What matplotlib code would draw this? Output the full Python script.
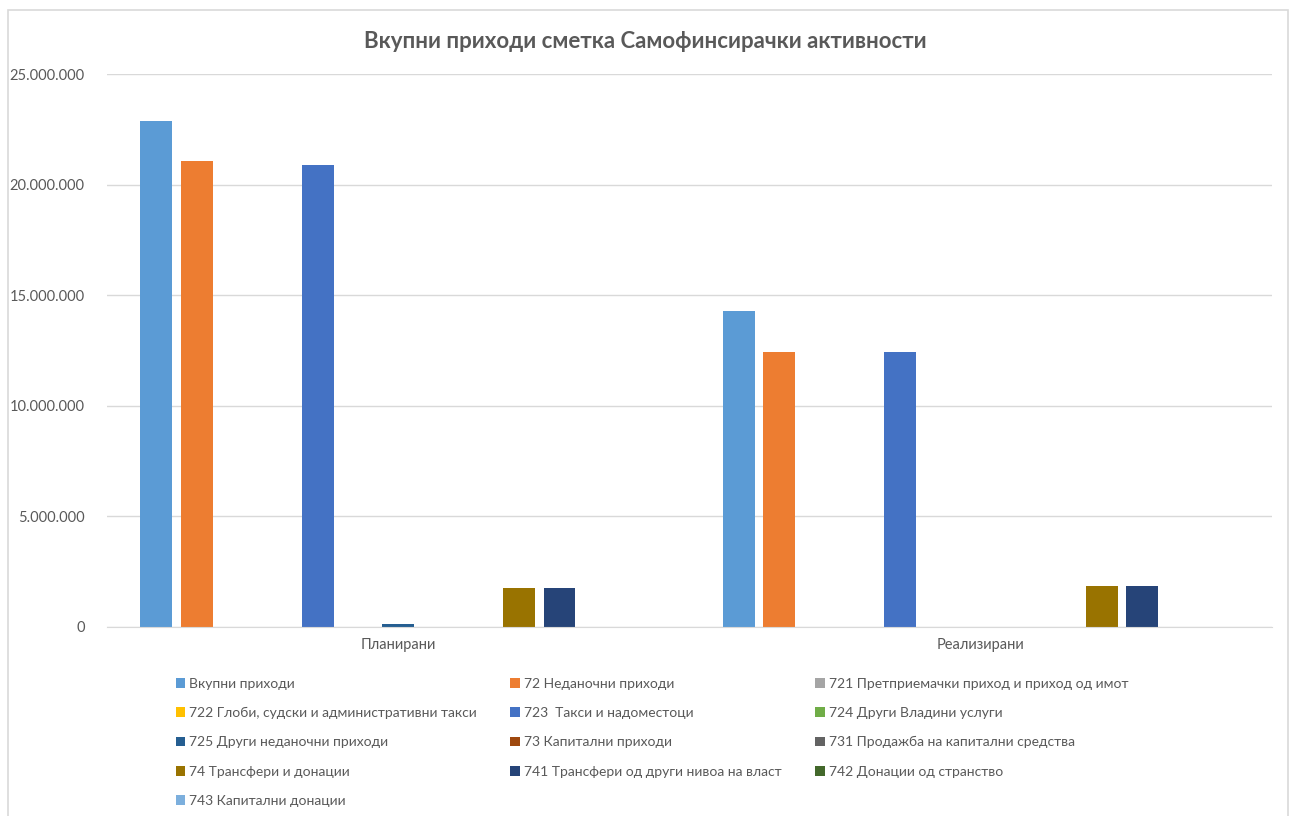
import numpy as np
import matplotlib.pyplot as plt
from matplotlib.patches import Rectangle

plt.rcParams['font.family'] = ['Lato', 'DejaVu Sans']

categories = ['Планирани', 'Реализирани']
series = ['Вкупни приходи', '72 Неданочни приходи',
          '721 Претприемачки приход и приход од имот',
          '722 Глоби, судски и административни такси',
          '723  Такси и надоместоци', '724 Други Владини услуги',
          '725 Други неданочни приходи', '73 Капитални приходи',
          '731 Продажба на капитални средства', '74 Трансфери и донации',
          '741 Трансфери од други нивоа на власт', '742 Донации од странство',
          '743 Капитални донации']
planned = [22870000, 21070000, 0, 0, 20890000, 0, 140000, 0, 0, 1760000, 1760000, 0, 0]
realized = [14290000, 12430000, 0, 0, 12430000, 0, 0, 0, 0, 1850000, 1850000, 0, 0]
colors = ['#5B9BD5', '#ED7D31', '#A5A5A5', '#FFC000', '#4472C4', '#70AD47',
          '#255E91', '#9E480E', '#636363', '#997300', '#264478', '#43682B', '#7CAFDD']

fig = plt.figure(figsize=(12.9, 8.16), dpi=100)
fig.patches.append(Rectangle((8 / 1290, -0.01), 1280 / 1290, 1 - 10 / 816 + 0.01,
                             transform=fig.transFigure, fill=False,
                             edgecolor='#D9D9D9', lw=1.2))
ax = fig.add_axes([107 / 1290, 1 - 627 / 816, 1165 / 1290, 553 / 816])

n = len(series)
step = 0.9 / n
width = step * 0.79
x = np.arange(len(categories))
bars = []
for i in range(n):
    off = (i - (n - 1) / 2) * step
    bars.append(ax.bar(x + off, [planned[i], realized[i]], width, color=colors[i], label=series[i]))

ax.set_xlim(-0.5, 1.5)
ax.set_ylim(0, 25000000)
ax.set_yticks(np.arange(0, 25000001, 5000000))
ax.yaxis.set_major_formatter(plt.FuncFormatter(lambda v, p: f'{int(v):,}'.replace(',', '.')))
ax.set_xticks(x)
ax.set_xticklabels(categories)
ax.tick_params(axis='both', length=0, colors='#595959', labelsize=10.5)
ax.tick_params(axis='x', pad=8)
ax.tick_params(axis='y', pad=16)
ax.grid(axis='y', color='#D9D9D9', lw=1)
ax.set_axisbelow(True)
for s in ['top', 'right', 'left']:
    ax.spines[s].set_visible(False)
ax.spines['bottom'].set_color('#D9D9D9')

fig.text(0.5, 1 - 42 / 816, 'Вкупни приходи сметка Самофинсирачки активности',
         ha='center', va='center', fontsize=16, fontweight='bold', color='#595959')

# legend is filled row by row in the reference
order = [0, 3, 6, 9, 12, 1, 4, 7, 10, 2, 5, 8, 11]
fig.legend([bars[i] for i in order], [series[i] for i in order],
           loc='upper left', bbox_to_anchor=(163 / 1290, 1 - 665 / 816), ncol=3,
           frameon=False, fontsize=10, handlelength=0.7, handleheight=0.7,
           handletextpad=0.3, columnspacing=2.4, labelspacing=1.25,
           labelcolor='#595959')

fig.savefig('out.png', dpi=100)
